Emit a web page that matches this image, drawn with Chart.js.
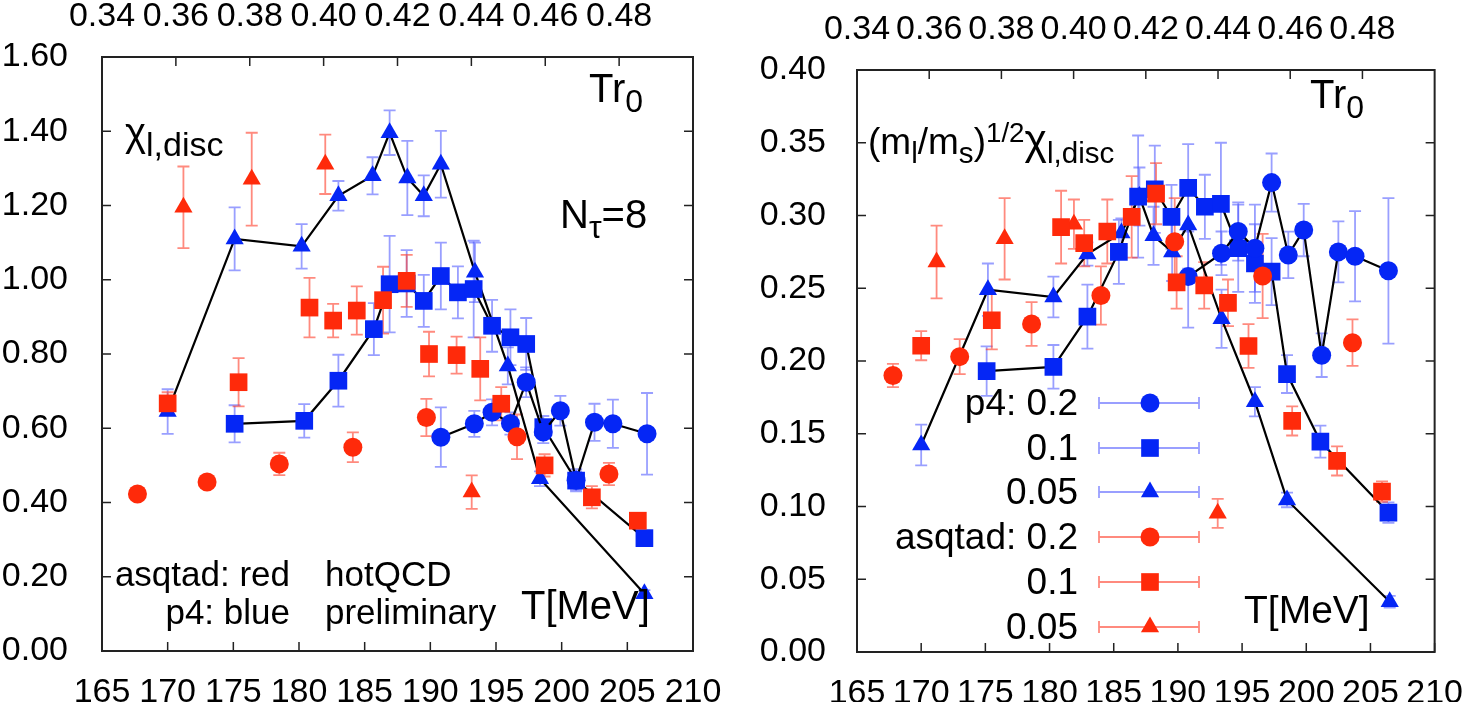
<!DOCTYPE html>
<html>
<head>
<meta charset="utf-8">
<script src="https://cdn.jsdelivr.net/npm/chart.js@4/dist/chart.umd.min.js"></script>
<style>
  body { margin: 0; background: #fff; width: 1476px; height: 702px; overflow: hidden; font-family: "Liberation Sans", Arial, sans-serif; }
  .panel { position: absolute; top: 0; width: 738px; height: 702px; }
  .note { position: absolute; color: #000; white-space: nowrap; line-height: 1; }
  .sub { font-size: 0.8em; position: relative; top: 0.3em; }
  .sup { font-size: 0.75em; position: relative; top: -0.45em; }
  .chi { font-size: 1.15em; }
  .leg { position: absolute; left: 0; width: 340px; text-align: right; font-size: 37px; line-height: 1; white-space: nowrap; }
</style>
</head>
<body>

<div class="panel" style="left:0">
  <canvas id="left" width="738" height="702"></canvas>
  <div class="note" style="left:125px;top:112px;font-size:40px">χ<span class="sub" style="font-size:0.85em">l,disc</span></div>
  <div class="note" style="left:589px;top:68px;font-size:40px">Tr<span class="sub">0</span></div>
  <div class="note" style="left:560px;top:194px;font-size:40px">N<span class="sub">τ</span>=8</div>
  <div class="note" style="left:90px;width:200px;text-align:right;top:556px;font-size:35px">asqtad: red</div>
  <div class="note" style="left:90px;width:200px;text-align:right;top:594px;font-size:35px">p4: blue</div>
  <div class="note" style="left:325px;top:556px;font-size:35px">hotQCD</div>
  <div class="note" style="left:325px;top:594px;font-size:35px">preliminary</div>
  <div class="note" style="left:521px;top:585px;font-size:40px">T[MeV]</div>
</div>

<div class="panel" style="left:738px">
  <canvas id="right" width="738" height="702"></canvas>
  <div class="note" style="left:130px;top:118px;font-size:37px">(m<span class="sub">l</span>/m<span class="sub">s</span>)<span class="sup">1/2</span><span class="chi">χ</span><span class="sub">l,disc</span></div>
  <div class="note" style="left:572px;top:74px;font-size:40px">Tr<span class="sub">0</span></div>
  <div class="note" style="left:506px;top:590px;font-size:39px">T[MeV]</div>
  <div class="leg" style="top:384px">p4: 0.2</div>
  <div class="leg" style="top:429px">0.1</div>
  <div class="leg" style="top:473px">0.05</div>
  <div class="leg" style="top:518px">asqtad: 0.2</div>
  <div class="leg" style="top:563px">0.1</div>
  <div class="leg" style="top:608px">0.05</div>
</div>

<script>
// tick values
const X_TICKS = [165, 170, 175, 180, 185, 190, 195, 200, 205, 210];
const TR0_TICKS = [0.34, 0.36, 0.38, 0.40, 0.42, 0.44, 0.46, 0.48];
const Y_TICKS_LEFT = [0, 0.2, 0.4, 0.6, 0.8, 1.0, 1.2, 1.4, 1.6];
const Y_TICKS_RIGHT = [0, 0.05, 0.10, 0.15, 0.20, 0.25, 0.30, 0.35, 0.40];

// [T (MeV), value, error]  -- left panel: chi_l,disc
const p4_02_left = [[190.8, 0.576, 0.08], [193.35, 0.612, 0.035], [194.7, 0.643, 0.035], [196.1, 0.613, 0.03], [197.3, 0.724, 0.04], [198.6, 0.59, 0.03], [199.9, 0.647, 0.04], [201.1, 0.46, 0.03], [202.5, 0.616, 0.05], [203.9, 0.612, 0.065], [206.5, 0.585, 0.11]];
const p4_01_left = [[175.1, 0.612, 0.05], [180.4, 0.62, 0.045], [183.0, 0.728, 0.07], [185.7, 0.867, 0.07], [186.9, 0.988, 0.13], [188.2, 0.99, 0.09], [189.5, 0.943, 0.07], [190.8, 1.01, 0.09], [192.1, 0.966, 0.07], [193.3, 0.975, 0.13], [194.7, 0.876, 0.07], [196.1, 0.845, 0.075], [197.3, 0.827, 0.07], [198.6, 0.603, 0.03], [201.1, 0.459, 0.025], [206.3, 0.304, 0.02]];
const p4_005_left = [[170.0, 0.645, 0.06], [175.1, 1.11, 0.085], [180.2, 1.09, 0.06], [183.0, 1.226, 0.04], [185.6, 1.28, 0.05], [186.9, 1.396, 0.06], [188.25, 1.274, 0.10], [189.5, 1.226, 0.055], [190.8, 1.311, 0.09], [193.4, 1.02, 0.08], [195.9, 0.768, 0.05], [198.35, 0.464, 0.02], [206.3, 0.154, 0.01]];
const asq_02_left = [[167.7, 0.423, 0.01], [173.0, 0.455, 0.012], [178.5, 0.504, 0.03], [184.1, 0.549, 0.04], [189.7, 0.629, 0.05], [196.6, 0.577, 0.06], [203.6, 0.477, 0.03]];
const asq_01_left = [[170.0, 0.667, 0.03], [175.4, 0.724, 0.065], [180.8, 0.925, 0.08], [182.6, 0.89, 0.045], [184.4, 0.917, 0.065], [186.4, 0.945, 0.09], [188.2, 0.997, 0.07], [189.9, 0.80, 0.06], [192.0, 0.797, 0.05], [193.8, 0.76, 0.085], [195.4, 0.666, 0.045], [198.7, 0.50, 0.03], [202.3, 0.414, 0.03], [205.8, 0.351, 0.02]];
const asq_005_left = [[171.2, 1.195, 0.11], [176.4, 1.271, 0.125], [182.0, 1.311, 0.08], [193.15, 0.428, 0.045]];

// right panel: (ml/ms)^1/2 chi_l,disc
const p4_02_right = [[190.8, 0.258, 0.035], [193.4, 0.274, 0.015], [194.7, 0.289, 0.02], [196.0, 0.2775, 0.03], [197.3, 0.3226, 0.02], [198.6, 0.2729, 0.016], [199.8, 0.29, 0.018], [201.2, 0.204, 0.015], [202.5, 0.275, 0.021], [203.8, 0.272, 0.031], [206.4, 0.262, 0.05]];
const p4_01_right = [[175.1, 0.193, 0.017], [180.3, 0.196, 0.015], [182.95, 0.2305, 0.022], [185.4, 0.275, 0.022], [186.9, 0.313, 0.042], [188.2, 0.318, 0.03], [189.5, 0.299, 0.022], [190.8, 0.319, 0.03], [192.1, 0.306, 0.022], [193.35, 0.308, 0.042], [194.7, 0.2775, 0.03], [196.0, 0.267, 0.027], [197.3, 0.2614, 0.023], [198.5, 0.191, 0.013], [201.1, 0.1446, 0.011], [206.4, 0.0958, 0.007]];
const p4_005_right = [[170.0, 0.1423, 0.014], [175.2, 0.249, 0.018], [180.3, 0.244, 0.014], [182.95, 0.2735, 0.008], [185.6, 0.288, 0.01], [187.0, 0.313, 0.02], [188.1, 0.286, 0.02], [189.55, 0.275, 0.02], [190.8, 0.2935, 0.03], [193.4, 0.229, 0.02], [196.0, 0.172, 0.01], [198.5, 0.1045, 0.005], [206.5, 0.0346, 0.004]];
const asq_02_right = [[167.8, 0.190, 0.008], [173.0, 0.203, 0.012], [178.6, 0.2254, 0.015], [184.0, 0.245, 0.02], [189.75, 0.282, 0.03], [196.6, 0.2584, 0.029], [203.6, 0.2126, 0.016]];
const asq_01_right = [[170.0, 0.2105, 0.01], [175.5, 0.228, 0.02], [180.9, 0.292, 0.025], [182.7, 0.281, 0.016], [184.5, 0.289, 0.022], [186.4, 0.299, 0.028], [188.3, 0.315, 0.021], [189.9, 0.254, 0.018], [192.05, 0.252, 0.016], [193.9, 0.240, 0.016], [195.5, 0.2103, 0.015], [198.9, 0.1588, 0.01], [202.4, 0.1313, 0.01], [205.9, 0.1102, 0.007]];
const asq_005_right = [[171.2, 0.268, 0.025], [176.5, 0.284, 0.028], [181.9, 0.294, 0.017], [193.1, 0.0953, 0.01]];

const BLUE = '#0526f5';
const RED = '#ff2a0a';
const BLUE_ERR = 'rgba(70,80,255,0.55)';
const RED_ERR = 'rgba(255,60,40,0.6)';

Chart.defaults.font.family = '"Liberation Sans", Arial, sans-serif';
Chart.defaults.color = '#000';

function series(key, pts, style, color, errColor, radius, line) {
  return {
    key, label: key,
    data: pts.map(([x, y, e]) => ({ x, y, e })),
    errColor,
    showLine: line,
    borderColor: '#000',
    borderWidth: 2.2,
    tension: 0,
    pointStyle: style,
    pointRadius: radius,
    pointHoverRadius: radius,
    pointBackgroundColor: color,
    pointBorderColor: color,
    pointBorderWidth: 0
  };
}

// red drawn on top of blue: lower index = drawn last
function datasets(p) {
  return [
    series('asq_02', p.asq02, 'circle', RED, RED_ERR, 9.5, false),
    series('asq_01', p.asq01, 'rect', RED, RED_ERR, 12.5, false),
    series('asq_005', p.asq005, 'triangle', RED, RED_ERR, 10.5, false),
    series('p4_02', p.p402, 'circle', BLUE, BLUE_ERR, 9.5, true),
    series('p4_01', p.p401, 'rect', BLUE, BLUE_ERR, 12.5, true),
    series('p4_005', p.p4005, 'triangle', BLUE, BLUE_ERR, 10.5, true)
  ];
}

const errorBars = {
  id: 'errorBars',
  beforeDatasetsDraw(chart) {
    const { ctx, chartArea: a, scales: { x, y } } = chart;
    ctx.save();
    ctx.beginPath();
    ctx.rect(a.left, a.top, a.right - a.left, a.bottom - a.top);
    ctx.clip();
    ctx.lineWidth = 1.8;
    chart.data.datasets.slice().reverse().forEach(ds => {
      ctx.strokeStyle = ds.errColor;
      ds.data.forEach(p => {
        const px = x.getPixelForValue(p.x);
        const top = y.getPixelForValue(p.y + p.e);
        const bot = y.getPixelForValue(p.y - p.e);
        ctx.beginPath();
        ctx.moveTo(px, top); ctx.lineTo(px, bot);
        ctx.moveTo(px - 6, top); ctx.lineTo(px + 6, top);
        ctx.moveTo(px - 6, bot); ctx.lineTo(px + 6, bot);
        ctx.stroke();
      });
    });
    ctx.restore();
  }
};

const frameTicks = {
  id: 'frameTicks',
  afterDraw(chart) {
    const { ctx, chartArea: a, scales } = chart;
    ctx.save();
    ctx.strokeStyle = '#222';
    ctx.lineWidth = 1.5;
    ctx.beginPath();
    scales.x.ticks.forEach(t => {
      const px = scales.x.getPixelForValue(t.value);
      ctx.moveTo(px, a.bottom); ctx.lineTo(px, a.bottom - 9);
    });
    scales.x2.ticks.forEach(t => {
      const px = scales.x2.getPixelForValue(t.value);
      ctx.moveTo(px, a.top); ctx.lineTo(px, a.top + 9);
    });
    scales.y.ticks.forEach(t => {
      const py = scales.y.getPixelForValue(t.value);
      ctx.moveTo(a.left, py); ctx.lineTo(a.left + 9, py);
      ctx.moveTo(a.right, py); ctx.lineTo(a.right - 9, py);
    });
    ctx.stroke();
    ctx.lineWidth = 2;
    ctx.strokeRect(a.left, a.top, a.right - a.left, a.bottom - a.top);
    ctx.restore();
  }
};

// legend samples (right panel): horizontal bar with caps and the marker
const LEGEND_ORDER = ['p4_02', 'p4_01', 'p4_005', 'asq_02', 'asq_01', 'asq_005'];
const LEGEND_ROWS = [403, 448, 492, 537, 582, 627];
const legendSamples = {
  id: 'legendSamples',
  afterDatasetsDraw(chart) {
    if (!chart.options.plugins.legendSamples) return;
    const { ctx } = chart;
    ctx.save();
    LEGEND_ORDER.forEach((key, i) => {
      const ds = chart.data.datasets.find(d => d.key === key);
      const y = LEGEND_ROWS[i];
      ctx.strokeStyle = ds.errColor;
      ctx.lineWidth = 1.8;
      ctx.beginPath();
      ctx.moveTo(361, y); ctx.lineTo(461, y);
      ctx.moveTo(361, y - 6); ctx.lineTo(361, y + 6);
      ctx.moveTo(461, y - 6); ctx.lineTo(461, y + 6);
      ctx.stroke();
      ctx.fillStyle = ds.pointBackgroundColor;
      ctx.strokeStyle = ds.pointBackgroundColor;
      Chart.helpers.drawPoint(ctx, { pointStyle: ds.pointStyle, radius: ds.pointRadius, rotation: 0, borderWidth: 0 }, 412, y);
    });
    ctx.restore();
  }
};

function makeChart(id, sets, yTicks, cfg) {
  const tickFont = { size: 34 };
  return new Chart(document.getElementById(id), {
    type: 'scatter',
    data: { datasets: sets },
    options: {
      responsive: false,
      animation: false,
      events: [],
      layout: { padding: { left: 0, right: cfg.rightPad, top: 0, bottom: 0 } },
      plugins: { legend: { display: false }, tooltip: { enabled: false }, legendSamples: cfg.legend },
      scales: {
        x: {
          type: 'linear', position: 'bottom', min: 165, max: 210,
          afterBuildTicks: s => { s.ticks = X_TICKS.map(v => ({ value: v })); },
          afterFit: s => { s.height = cfg.bottom; },
          grid: { display: false }, border: { display: false },
          ticks: { font: tickFont, padding: 13, maxRotation: 0, autoSkip: false, callback: v => String(v) }
        },
        x2: {
          type: 'linear', position: 'top', min: 0.34, max: 0.50,
          afterBuildTicks: s => { s.ticks = TR0_TICKS.map(v => ({ value: v })); },
          afterFit: s => { s.height = cfg.top; },
          grid: { display: false }, border: { display: false },
          ticks: { font: tickFont, padding: 12, maxRotation: 0, autoSkip: false, callback: v => v.toFixed(2) }
        },
        y: {
          type: 'linear', position: 'left', min: yTicks[0], max: yTicks[yTicks.length - 1],
          afterBuildTicks: s => { s.ticks = yTicks.map(v => ({ value: v })); },
          afterFit: s => { s.width = cfg.left; },
          grid: { display: false }, border: { display: false },
          ticks: { font: tickFont, padding: cfg.labelGap, autoSkip: false, callback: v => v.toFixed(2) }
        }
      }
    },
    plugins: [errorBars, frameTicks, legendSamples]
  });
}

makeChart('left', datasets({
  p402: p4_02_left, p401: p4_01_left, p4005: p4_005_left,
  asq02: asq_02_left, asq01: asq_01_left, asq005: asq_005_left
}), Y_TICKS_LEFT, { left: 102, rightPad: 45, top: 57, bottom: 51, labelGap: 26, legend: false });

makeChart('right', datasets({
  p402: p4_02_right, p401: p4_01_right, p4005: p4_005_right,
  asq02: asq_02_right, asq01: asq_01_right, asq005: asq_005_right
}), Y_TICKS_RIGHT, { left: 119, rightPad: 39, top: 70, bottom: 50, labelGap: 23, legend: true });
</script>
</body>
</html>
